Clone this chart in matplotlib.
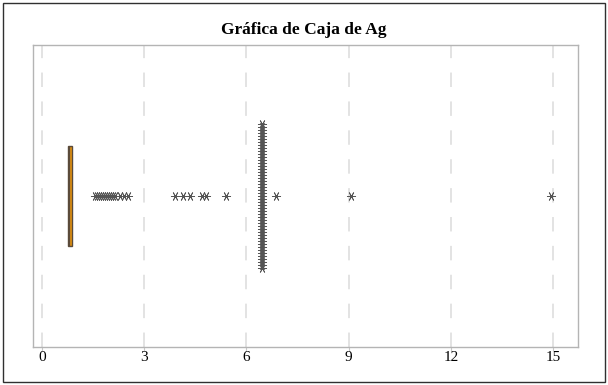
import matplotlib
matplotlib.use("Agg")
import matplotlib.pyplot as plt
from matplotlib.patches import Rectangle
import numpy as np

# Box summary for Ag (the box collapses to a narrow band)
box_q1 = 0.77
box_median = 0.80
box_q3 = 0.87
whisker_low = 0.77
whisker_high = 0.87

# Outliers and how many tied observations sit at each value
outlier_values = [1.56, 1.62, 1.68, 1.74, 1.80, 1.86, 1.92, 1.98, 2.04, 2.10,
                  2.16, 2.29, 2.41, 2.52, 3.90, 4.14, 4.34, 4.70, 4.81, 5.40,
                  6.46, 6.87, 9.07, 14.94]
outlier_counts = [1, 1, 1, 1, 1, 1, 1, 1, 1, 1,
                  1, 1, 1, 1, 1, 1, 1, 1, 1, 1,
                  49, 1, 1, 1]

x_ticks = [0, 3, 6, 9, 12, 15]
title = "Gráfica de Caja de Ag"

plt.rcParams['font.family'] = ['Liberation Serif', 'DejaVu Serif']

fig = plt.figure(figsize=(6.08, 3.85), dpi=100)
ax = fig.add_axes([0.0543, 0.0987, 0.8964, 0.7843])

stats = [dict(med=box_median, q1=box_q1, q3=box_q3,
              whislo=whisker_low, whishi=whisker_high, fliers=[])]
ax.bxp(stats, positions=[1], widths=0.5, orientation='horizontal',
       patch_artist=True, showfliers=False, showcaps=False,
       boxprops=dict(facecolor='#E8940C', edgecolor='#5a4a3a', linewidth=1.0),
       medianprops=dict(color='#5a4a3a', linewidth=1.0),
       whiskerprops=dict(color='#5a4a3a', linewidth=1.0))

# tied outliers are stacked vertically around the box centre
step = 0.015
star = (6, 2, 30)
for val, n in zip(outlier_values, outlier_counts):
    offs = (np.arange(n) - (n - 1) / 2) * step
    ax.plot(np.full(n, val), 1 + offs, linestyle='none', marker=star,
            markersize=6.5, markeredgewidth=0.6, color='#555555', zorder=3)

ax.set_xlim(-0.26, 15.73)
ax.set_ylim(0.25, 1.75)
ax.set_xticks(x_ticks)
ax.set_xticklabels([str(t) for t in x_ticks], fontsize=11)
ax.set_yticks([])
ax.tick_params(axis='x', length=3, color='#c8c8c8', pad=0, labelcolor='black')

ax.grid(axis='x', color='#e0e0e0', linestyle=(0, (8, 8)), linewidth=1.3)
ax.set_axisbelow(True)
for sp in ax.spines.values():
    sp.set_color('#b4b4b4')
    sp.set_linewidth(1.0)

fig.text(0.5, 0.922, title, ha='center', va='center',
         fontsize=12.5, fontweight='bold')

# thin frame around the whole graph
fig.patches.append(Rectangle((0.005, 0.008), 0.99, 0.984, transform=fig.transFigure,
                             fill=False, edgecolor='#303030', linewidth=1.0))

fig.savefig("out.png", dpi=100)
